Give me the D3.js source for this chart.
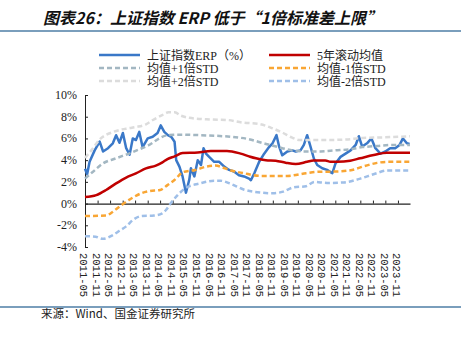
<!DOCTYPE html>
<html>
<head>
<meta charset="utf-8">
<script src="https://cdn.jsdelivr.net/npm/d3@7"></script>
<style>
  body { margin: 0; background: #fff; }
  svg { display: block; }
  .cn { font-family: "Liberation Serif", "Noto Sans CJK SC", serif; }
</style>
</head>
<body>
<svg width="461" height="341"></svg>
<script>
const svg = d3.select("svg");

// x-axis labels (every 6 months)
const tickLabels = ["2011-05", "2011-11", "2012-05", "2012-11", "2013-05", "2013-11",
  "2014-05", "2014-11", "2015-05", "2015-11", "2016-05", "2016-11", "2017-05", "2017-11",
  "2018-05", "2018-11", "2019-05", "2019-11", "2020-05", "2020-11", "2021-05", "2021-11",
  "2022-05", "2022-11", "2023-05", "2023-11"];
const yTicks = [-4, -2, 0, 2, 4, 6, 8, 10];

// series, [date, %]
const erp = [
  ["2011-05-01", 3.2], ["2011-06-01", 2.7], ["2011-07-07", 3.85], ["2011-09-19", 4.9],
  ["2011-12-01", 5.7], ["2012-01-19", 4.8], ["2012-04-01", 5.1], ["2012-06-10", 5.55],
  ["2012-07-28", 6.3], ["2012-09-15", 5.6], ["2012-11-04", 6.5], ["2012-12-22", 5.1],
  ["2013-02-10", 4.5], ["2013-03-28", 6.0], ["2013-05-13", 5.85], ["2013-07-01", 6.6],
  ["2013-08-19", 5.2], ["2013-11-01", 6.0], ["2014-01-13", 6.15], ["2014-03-25", 6.5],
  ["2014-05-10", 7.2], ["2014-07-01", 6.6], ["2014-08-22", 6.3], ["2014-10-10", 6.15],
  ["2014-11-28", 5.7], ["2014-12-22", 4.0], ["2015-02-07", 3.4], ["2015-03-25", 2.5],
  ["2015-05-13", 1.0], ["2015-07-01", 2.2], ["2015-07-25", 3.25], ["2015-09-13", 2.5],
  ["2015-11-01", 4.0], ["2015-12-19", 3.55], ["2016-01-25", 5.1], ["2016-03-01", 4.6],
  ["2016-04-16", 4.3], ["2016-06-28", 3.85], ["2016-09-10", 3.85], ["2016-11-22", 3.4],
  ["2017-02-01", 3.1], ["2017-04-13", 2.95], ["2017-06-25", 2.6], ["2017-09-07", 2.5],
  ["2017-11-19", 2.3], ["2017-12-16", 2.15], ["2018-02-04", 2.8], ["2018-04-16", 3.85],
  ["2018-06-28", 4.6], ["2018-09-07", 5.2], ["2018-10-28", 5.55], ["2018-12-25", 6.3],
  ["2019-02-01", 5.25], ["2019-03-19", 4.45], ["2019-06-01", 4.8], ["2019-08-13", 4.9],
  ["2019-10-01", 4.8], ["2019-12-10", 4.9], ["2020-01-28", 5.4], ["2020-03-16", 6.3],
  ["2020-05-04", 5.25], ["2020-06-22", 4.15], ["2020-08-10", 3.55], ["2020-10-22", 3.25],
  ["2021-01-01", 3.1], ["2021-02-19", 2.9], ["2021-03-19", 2.8], ["2021-05-04", 3.7],
  ["2021-07-16", 4.3], ["2021-09-28", 4.6], ["2021-12-10", 4.9], ["2022-02-22", 5.4],
  ["2022-04-10", 6.2], ["2022-05-28", 5.25], ["2022-08-07", 5.55], ["2022-10-10", 6.0],
  ["2022-12-07", 5.1], ["2023-02-19", 4.6], ["2023-05-01", 4.8], ["2023-07-10", 5.1],
  ["2023-09-22", 5.1], ["2023-11-25", 5.4], ["2024-01-13", 6.0], ["2024-03-10", 5.55],
  ["2024-04-20", 5.5]
];
const mean5y = [
  ["2011-05-01", 0.6], ["2011-10-13", 0.78], ["2012-03-04", 1.25], ["2012-07-28", 1.86],
  ["2012-12-22", 2.4], ["2013-05-13", 2.78], ["2013-10-07", 3.24], ["2014-02-28", 3.5],
  ["2014-06-04", 3.8], ["2014-08-16", 4.1], ["2014-11-28", 4.35], ["2015-03-25", 4.65],
  ["2015-11-01", 4.7], ["2016-05-10", 4.85], ["2017-01-01", 4.85], ["2017-07-19", 4.6],
  ["2017-11-19", 4.35], ["2018-02-28", 4.17], ["2018-07-22", 4.0], ["2018-12-13", 3.95],
  ["2019-05-07", 3.76], ["2019-10-01", 3.64], ["2020-03-16", 3.85], ["2020-06-16", 3.97],
  ["2020-12-07", 3.97], ["2021-02-19", 3.85], ["2021-06-01", 3.85], ["2021-12-04", 3.95],
  ["2022-04-28", 4.17], ["2022-11-13", 4.47], ["2023-05-25", 4.68], ["2024-04-25", 4.68]
];
const plus1 = [
  ["2011-05-01", 2.3], ["2011-08-25", 2.93], ["2012-01-19", 3.7], ["2012-07-28", 4.17],
  ["2013-02-10", 4.63], ["2013-07-01", 5.0], ["2013-11-25", 5.4], ["2014-04-19", 6.0],
  ["2014-08-16", 6.3], ["2015-02-01", 6.35], ["2015-12-01", 6.3], ["2016-07-01", 6.25],
  ["2017-03-01", 6.15], ["2017-11-01", 5.95], ["2018-06-22", 5.55], ["2019-01-01", 5.23],
  ["2019-07-16", 4.93], ["2020-02-01", 4.8], ["2020-10-01", 4.8], ["2021-05-01", 4.9],
  ["2021-12-01", 5.0], ["2022-06-01", 5.2], ["2023-01-01", 5.3], ["2023-08-01", 5.4],
  ["2024-04-25", 5.4]
];
const minus1 = [
  ["2011-05-01", -1.15], ["2012-03-01", -1.1], ["2012-06-01", -0.8], ["2012-08-01", -0.5],
  ["2012-11-16", 0.0], ["2013-03-28", 0.55], ["2013-08-01", 0.95], ["2013-12-01", 1.15],
  ["2014-05-01", 1.25], ["2014-08-16", 1.7], ["2014-12-01", 2.2], ["2015-04-01", 2.9],
  ["2015-10-01", 3.1], ["2016-03-01", 3.4], ["2016-07-16", 3.5], ["2016-12-01", 3.25],
  ["2017-03-01", 3.05], ["2017-09-01", 2.8], ["2018-05-01", 2.55], ["2019-06-01", 2.55],
  ["2020-03-01", 2.8], ["2020-09-01", 2.93], ["2021-05-01", 2.95], ["2022-01-01", 3.1],
  ["2022-07-01", 3.45], ["2023-01-01", 3.75], ["2023-07-01", 3.85], ["2024-04-25", 3.85]
];
const plus2 = [
  ["2011-05-01", 4.2], ["2011-08-01", 4.9], ["2011-12-01", 5.9], ["2012-06-16", 6.6],
  ["2012-12-22", 6.9], ["2013-05-13", 7.05], ["2013-10-07", 7.3], ["2014-01-16", 7.7],
  ["2014-06-01", 8.15], ["2014-09-01", 8.4], ["2014-12-01", 8.4], ["2015-03-01", 8.1],
  ["2015-07-01", 7.9], ["2016-05-01", 7.75], ["2017-01-01", 7.7], ["2017-09-01", 7.45],
  ["2018-04-01", 7.35], ["2018-10-01", 7.0], ["2019-04-01", 6.5], ["2019-08-01", 6.1],
  ["2019-12-01", 5.85], ["2020-12-01", 5.85], ["2021-10-01", 5.9], ["2022-06-01", 6.05],
  ["2023-04-01", 6.1], ["2024-04-25", 6.2]
];
const minus2 = [
  ["2011-05-01", -3.0], ["2011-10-01", -3.05], ["2012-01-16", -3.25], ["2012-06-10", -2.9],
  ["2012-09-16", -2.5], ["2012-12-22", -2.1], ["2013-04-01", -1.5], ["2013-08-01", -1.15],
  ["2014-02-01", -1.1], ["2014-06-01", -0.9], ["2014-08-01", -0.55], ["2014-10-01", 0.0],
  ["2015-01-01", 0.7], ["2015-05-01", 1.4], ["2015-12-01", 1.85], ["2016-07-01", 2.1],
  ["2016-10-01", 2.1], ["2017-03-01", 1.8], ["2017-09-01", 1.3], ["2018-06-01", 1.0],
  ["2018-11-01", 0.95], ["2019-04-01", 1.1], ["2019-09-01", 1.5], ["2020-03-01", 1.6],
  ["2020-07-01", 2.0], ["2021-01-01", 1.9], ["2021-09-01", 1.95], ["2022-05-01", 2.3],
  ["2022-12-01", 2.75], ["2023-06-01", 3.05], ["2024-04-25", 3.05]
];

const parse = d3.timeParse("%Y-%m-%d");
const parseM = d3.timeParse("%Y-%m");

const x = d3.scaleTime()
  .domain([parse("2011-05-01"), parse("2024-04-25")])
  .range([85, 410]);
const y = d3.scaleLinear().domain([-4, 10]).range([247, 95]);

// title + rules
svg.append("text")
  .attr("x", 43).attr("y", 24)
  .attr("font-family", "'Noto Sans CJK SC', sans-serif")
  .attr("font-size", 16).attr("font-weight", 700).attr("font-style", "italic")
  .attr("fill", "#111")
  .text("图表26：上证指数 ERP 低于“1倍标准差上限”");
svg.append("line").attr("x1", 0).attr("x2", 461).attr("y1", 31).attr("y2", 31)
  .attr("stroke", "#4e7ea6").attr("stroke-width", 1.5);
svg.append("line").attr("x1", 0).attr("x2", 461).attr("y1", 307).attr("y2", 307)
  .attr("stroke", "#4e7ea6").attr("stroke-width", 1.5);
svg.append("text")
  .attr("x", 41).attr("y", 318)
  .attr("font-family", "'Noto Sans CJK SC', sans-serif")
  .attr("font-size", 11.5).attr("fill", "#222")
  .text("来源：Wind、国金证券研究所");

// series styles (Excel order)
const series = [
  { name: "上证指数ERP（%）", data: erp, color: "#3a78c8", dash: null, curve: d3.curveLinear },
  { name: "5年滚动均值", data: mean5y, color: "#c00000", dash: null, curve: d3.curveMonotoneX },
  { name: "均值+1倍STD", data: plus1, color: "#a3b7c2", dash: "5,3", curve: d3.curveMonotoneX },
  { name: "均值-1倍STD", data: minus1, color: "#f9a634", dash: "5,3", curve: d3.curveMonotoneX },
  { name: "均值+2倍STD", data: plus2, color: "#dcdcdc", dash: "5,3", curve: d3.curveMonotoneX },
  { name: "均值-2倍STD", data: minus2, color: "#9fbfe8", dash: "5,3", curve: d3.curveMonotoneX }
];

// legend
const legend = svg.append("g").attr("class", "cn").attr("font-size", 12);
series.forEach((s, i) => {
  const col = i % 2, row = Math.floor(i / 2);
  const lx = col === 0 ? 99 : 269, ly = 55 + row * 13;
  legend.append("line")
    .attr("x1", lx).attr("x2", lx + 41).attr("y1", ly).attr("y2", ly)
    .attr("stroke", s.color).attr("stroke-width", 2.5)
    .attr("stroke-dasharray", s.dash);
  legend.append("text")
    .attr("x", lx + 48).attr("y", ly + 4.5)
    .attr("fill", "#222")
    .text(s.name);
});

// axes
const gy = svg.append("g").attr("transform", "translate(85,0)")
  .call(d3.axisRight(y).tickValues(yTicks).tickSize(3).tickFormat(""));
gy.select(".domain").attr("stroke", "#222");
gy.selectAll(".tick line").attr("stroke", "#222");
svg.append("g").selectAll("text").data(yTicks).enter().append("text")
  .attr("x", 77).attr("y", (d) => y(d) + 4)
  .attr("text-anchor", "end")
  .attr("font-family", "'Liberation Serif', serif")
  .attr("font-size", 12).attr("fill", "#222")
  .text((d) => d + "%");

const tickDates = tickLabels.map(parseM);
const gx = svg.append("g").attr("transform", `translate(0,${y(0)})`)
  .call(d3.axisTop(x).tickValues(tickDates).tickSize(3).tickFormat("").tickSizeOuter(0));
gx.select(".domain").attr("stroke", "#222").attr("stroke-width", 1.2);
gx.selectAll(".tick line").attr("stroke", "#222");

svg.append("g").selectAll("text").data(tickLabels).enter().append("text")
  .attr("transform", (d) => `translate(${x(parseM(d)) - 1},253) rotate(90)`)
  .attr("dy", "0.35em")
  .attr("font-family", "'Liberation Mono', monospace")
  .attr("font-size", 10.5).attr("fill", "#222")
  .text((d) => d);

// lines
series.forEach((s) => {
  const line = d3.line()
    .x((d) => x(parse(d[0])))
    .y((d) => y(d[1]))
    .curve(s.curve);
  svg.append("path")
    .datum(s.data)
    .attr("d", line)
    .attr("fill", "none")
    .attr("stroke", s.color)
    .attr("stroke-width", 2.5)
    .attr("stroke-linejoin", "round")
    .attr("stroke-dasharray", s.dash);
});
</script>
</body>
</html>
